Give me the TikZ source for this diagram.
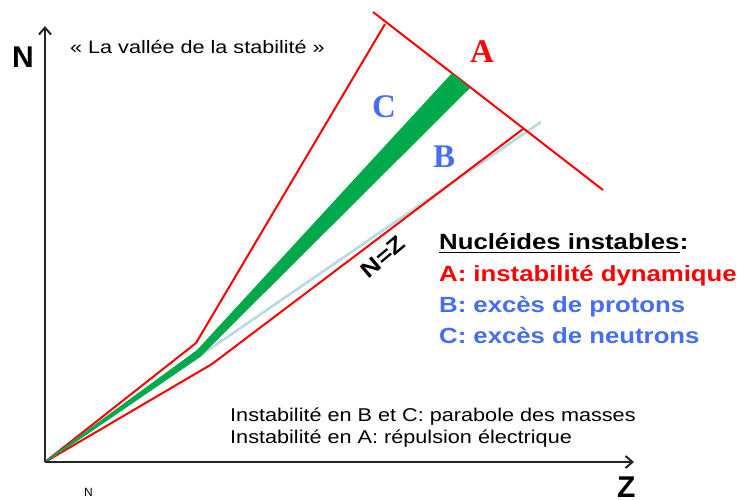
\documentclass[tikz,border=0pt]{standalone}
\usepackage{fontspec}
\setmainfont{Liberation Sans}
\newfontfamily\seriffont{Liberation Serif}
\newfontfamily\titlefont[FakeStretch=1.2]{Liberation Sans}
\newfontfamily\legendfont[FakeStretch=1.17]{Liberation Sans}
\newfontfamily\notefont[FakeStretch=1.17]{Liberation Sans}
\usetikzlibrary{arrows.meta}
\definecolor{redl}{RGB}{255,0,0}
\definecolor{bluel}{RGB}{70,110,240}
\definecolor{greenl}{RGB}{0,170,75}
\definecolor{nzblue}{RGB}{185,218,224}
\begin{document}
\begin{tikzpicture}[x=1pt,y=-1pt,
  redline/.style={draw=redl,line width=2pt,line join=miter},
  axis/.style={draw=black!85,line width=2.2pt,-{Straight Barb[length=7pt,width=12pt,line width=2pt]}},
  lbl/.style={inner sep=0pt,anchor=base west},
  letter/.style={lbl,font=\seriffont\bfseries\fontsize{33}{36}\selectfont},
  legend/.style={lbl,font=\legendfont\bfseries\fontsize{22}{26}\selectfont},
  note/.style={lbl,font=\notefont\fontsize{18.5}{20}\selectfont}]
\useasboundingbox (0,0) rectangle (741,499);
\fill[white] (0,0) rectangle (741,499);
% coordinates
\coordinate (O) at (45,462);
\coordinate (Ntip) at (45,26);
\coordinate (Ztip) at (634,462);
\coordinate (uk) at (196,343);
\coordinate (ut) at (385,24);
\coordinate (ck1) at (373,12);
\coordinate (ck2) at (603,190);
\coordinate (lk) at (212,364);
\coordinate (lt) at (523,129);
\coordinate (nz) at (541,122);
% light blue N=Z line
\draw[nzblue,line width=2.6pt] (O) -- (nz);
% red limits
\draw[redline] (O) -- (uk) -- (ut);
\draw[redline] (ck1) -- (ck2);
\draw[redline] (O) -- (lk) -- (lt);
% green valley
\fill[greenl] (45,461) -- (197,350) -- (452,73) -- (470,88) -- (200,357) -- (45,463) -- cycle;
% axes
\draw[axis] (O) -- (Ntip);
\draw[axis] (O) -- (Ztip);
% labels
\node[lbl,font=\bfseries\fontsize{30}{32}\selectfont] (Nlab) at (12,67) {N};
\node[lbl,font=\bfseries\fontsize{30}{32}\selectfont] (Zlab) at (617,497) {Z};
\node[lbl,font=\fontsize{12}{14}\selectfont] (nsmall) at (84,496) {N};
\node[lbl,font=\titlefont\fontsize{18}{20}\selectfont] (title) at (70,53) {« La vallée de la stabilité »};
\node[letter,text=redl] (A) at (470,62) {A};
\node[letter,text=bluel] (C) at (372,117) {C};
\node[letter,text=bluel] (B) at (433,167) {B};
\node[inner sep=0pt,rotate=40,font=\titlefont\bfseries\fontsize{22}{24}\selectfont] (NZ) at (383,257) {N=Z};
\node[legend] (L0) at (439,249) {Nucléides instables};
\node[legend,anchor=base west] (L0c) at (L0.base east) {:};
\draw[line width=1.8pt] ([yshift=-3.5pt]L0.base west) -- ([yshift=-3.5pt]L0.base east);
\node[legend,text=redl] (L1) at (439,281) {A: instabilité dynamique};
\node[legend,text=bluel] (L2) at (439,312) {B: excès de protons};
\node[legend,text=bluel] (L3) at (439,343) {C: excès de neutrons};
\node[note] (n1) at (230,421) {Instabilité en B et C: parabole des masses};
\node[note] (n2) at (230,443) {Instabilité en A: répulsion électrique};
\end{tikzpicture}
\end{document}
